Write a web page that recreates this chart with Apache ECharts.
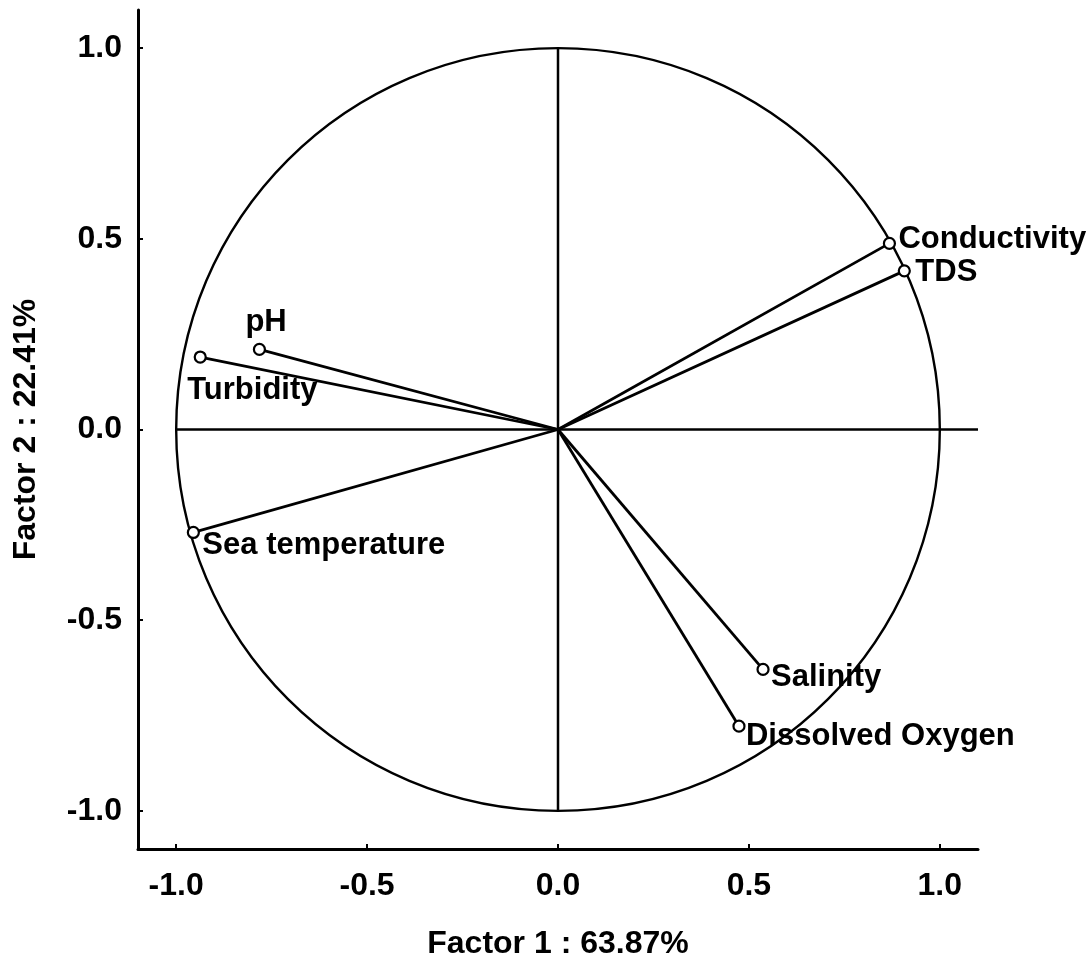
<!DOCTYPE html>
<html>
<head>
<meta charset="utf-8">
<script src="https://cdn.jsdelivr.net/npm/echarts@6/dist/echarts.min.js"></script>
<style>
  html, body { margin: 0; padding: 0; background: #fff; }
  #chart { width: 1092px; height: 959px; }
</style>
</head>
<body>
<div id="chart"></div>
<script>
// Factor loadings of the water-quality variables on the first two factors
const variables = ['Conductivity', 'TDS', 'pH', 'Turbidity', 'Sea temperature', 'Salinity', 'Dissolved Oxygen'];
const factor1 = [0.868, 0.907, -0.782, -0.937, -0.955, 0.537, 0.474];
const factor2 = [0.488, 0.416, 0.210, 0.190, -0.270, -0.629, -0.778];
const tickValues = [-1.0, -0.5, 0.0, 0.5, 1.0];
const xTitle = 'Factor 1 : 63.87%';
const yTitle = 'Factor 2 : 22.41%';

// Label placement next to each loading point (pixels from the point)
const labelOffsets = [[9, -4], [11, 2], [-14, -27], [-13, 33], [9, 13], [8, 8], [7, 10]];

const FONT = '"Liberation Sans", Arial, sans-serif';
const chart = echarts.init(document.getElementById('chart'), null, { renderer: 'canvas' });

const points = variables.map((name, i) => ({
  name: name,
  value: [factor1[i], factor2[i]],
  label: { offset: labelOffsets[i] }
}));

function axis(name, nameGap, labelMargin) {
  return {
    type: 'value',
    min: -1.1,
    max: 1.1,
    name: name,
    nameLocation: 'middle',
    nameGap: nameGap,
    nameTextStyle: { fontFamily: FONT, fontWeight: 'bold', fontSize: 32, color: '#000' },
    axisLine: { show: true, onZero: false, lineStyle: { color: '#000', width: 3 } },
    axisTick: { show: true, inside: true, length: 5, customValues: tickValues, lineStyle: { color: '#000', width: 2 } },
    axisLabel: {
      customValues: tickValues,
      formatter: v => v.toFixed(1),
      fontFamily: FONT, fontWeight: 'bold', fontSize: 32, color: '#000', margin: labelMargin
    },
    splitLine: { show: false }
  };
}

const option = {
  animation: false,
  backgroundColor: '#fff',
  grid: { left: 138, right: 114, top: 10, bottom: 110, containLabel: false, outerBoundsMode: 'none' },
  xAxis: axis(xTitle, 79, 21),
  yAxis: axis(yTitle, 96, 16),
  series: [
    // unit correlation circle
    {
      type: 'custom',
      silent: true,
      data: [[0, 0]],
      renderItem: function (params, api) {
        const c = api.coord([0, 0]);
        const r = api.size([1, 1]);
        return {
          type: 'ellipse',
          shape: { cx: c[0], cy: c[1], rx: r[0], ry: r[1] },
          style: { fill: null, stroke: '#000', lineWidth: 2.4 }
        };
      },
      z: 1
    },
    // horizontal reference line
    {
      type: 'line',
      data: [[-1.0, 0], [1.1, 0]],
      symbol: 'none',
      lineStyle: { color: '#000', width: 2.5 },
      silent: true,
      z: 1
    },
    // vertical reference line
    {
      type: 'line',
      data: [[0, -1.0], [0, 1.0]],
      symbol: 'none',
      lineStyle: { color: '#000', width: 2.5 },
      silent: true,
      z: 1
    },
    // loading vectors from the origin
    {
      type: 'custom',
      silent: true,
      data: factor1.map((x, i) => [x, factor2[i]]),
      renderItem: function (params, api) {
        const o = api.coord([0, 0]);
        const p = api.coord([api.value(0), api.value(1)]);
        return {
          type: 'line',
          shape: { x1: o[0], y1: o[1], x2: p[0], y2: p[1] },
          style: { stroke: '#000', lineWidth: 2.8 }
        };
      },
      z: 2
    },
    // loading points with variable names
    {
      type: 'scatter',
      data: points,
      symbol: 'circle',
      symbolSize: 11,
      itemStyle: { color: '#fff', borderColor: '#000', borderWidth: 2.2, opacity: 1 },
      label: {
        show: true,
        position: 'inside',
        align: 'left',
        verticalAlign: 'middle',
        formatter: p => p.name,
        fontFamily: FONT, fontWeight: 'bold', fontSize: 31, color: '#000'
      },
      z: 3
    }
  ]
};

chart.setOption(option);
</script>
</body>
</html>
